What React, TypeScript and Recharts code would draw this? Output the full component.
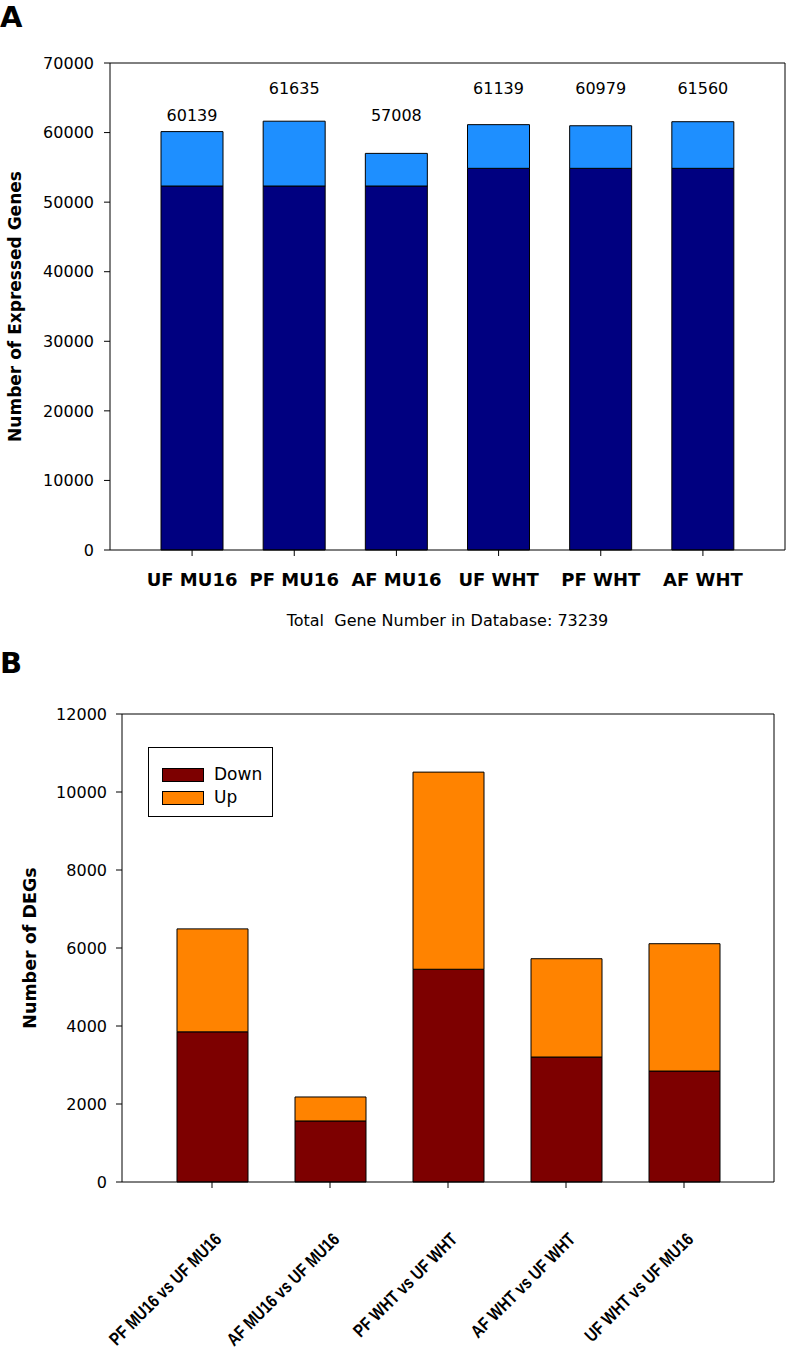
import React from 'react';
import { BarChart, Bar, XAxis, YAxis, LabelList, Legend } from 'recharts';

// Panel A: expressed genes per sample
const sampleGroups = ['UF MU16', 'PF MU16', 'AF MU16', 'UF WHT', 'PF WHT', 'AF WHT'];
const expressedTotal = [60139, 61635, 57008, 61139, 60979, 61560];
const expressedBase = [52320, 52320, 52320, 54860, 54860, 54860];
const expressedTicks = [0, 10000, 20000, 30000, 40000, 50000, 60000, 70000];

// Panel B: differentially expressed genes per comparison
const comparisons = [
  'PF MU16 vs UF MU16',
  'AF MU16 vs UF MU16',
  'PF WHT vs UF WHT',
  'AF WHT vs UF WHT',
  'UF WHT vs UF MU16',
];
const downDEGs = [3850, 1565, 5455, 3205, 2845];
const upDEGs = [2640, 615, 5055, 2520, 3265];
const degTicks = [0, 2000, 4000, 6000, 8000, 10000, 12000];

const FONT = '"DejaVu Sans", sans-serif';
const NAVY = '#000080';
const SKY = '#1e8fff';
const MAROON = '#7d0000';
const ORANGE = '#ff8300';

const expressedData = sampleGroups.map((group, i) => ({
  group,
  base: expressedBase[i],
  extra: expressedTotal[i] - expressedBase[i],
  total: expressedTotal[i],
}));

const degData = comparisons.map((name, i) => ({
  name,
  down: downDEGs[i],
  up: upDEGs[i],
}));

// value labels sit on two rows above the bars, as in the original figure
function TotalLabel(props: any) {
  const { x, y, width, height, index } = props;
  const total = expressedTotal[index];
  const extra = total - expressedBase[index];
  const k = height / extra;
  const zeroY = y + total * k;
  const level = total >= 60500 ? 65500 : 61650;
  return (
    <text
      x={x + width / 2}
      y={zeroY - level * k}
      textAnchor="middle"
      fontFamily={FONT}
      fontSize={16}
      fill="#000"
    >
      {total}
    </text>
  );
}

function SideTitle({ viewBox, x, text, size }: any) {
  const cy = viewBox.y + viewBox.height / 2;
  return (
    <text
      x={x}
      y={cy}
      transform={`rotate(-90 ${x} ${cy})`}
      textAnchor="middle"
      dominantBaseline="central"
      fontFamily={FONT}
      fontWeight="bold"
      fontSize={size}
      fill="#000"
    >
      {text}
    </text>
  );
}

// condensed, bold, 45° labels under panel B
function SlantTick({ x, y, payload }: any) {
  const ax = x + 6;
  const ay = y + 46;
  return (
    <g transform={`translate(${ax} ${ay}) rotate(-45) scale(0.82 1)`}>
      <text
        x={0}
        y={0}
        textAnchor="end"
        dy="0.35em"
        fontFamily='"Liberation Sans", Arial, sans-serif'
        fontWeight="bold"
        fontSize={18}
        fill="#000"
      >
        {payload.value}
      </text>
    </g>
  );
}

function DegLegend() {
  const items = [
    { label: 'Down', color: MAROON },
    { label: 'Up', color: ORANGE },
  ];
  return (
    <div
      style={{
        width: 125,
        height: 70,
        boxSizing: 'border-box',
        border: '1px solid #000',
        background: '#fff',
        padding: '15px 0 0 13px',
        fontFamily: FONT,
        fontSize: 17,
        color: '#000',
      }}
    >
      {items.map((it) => (
        <div key={it.label} style={{ display: 'flex', alignItems: 'center', height: 23 }}>
          <span
            style={{
              display: 'inline-block',
              width: 42,
              height: 14,
              boxSizing: 'border-box',
              border: '1px solid #000',
              background: it.color,
              marginRight: 10,
            }}
          />
          <span style={{ lineHeight: '17px' }}>{it.label}</span>
        </div>
      ))}
    </div>
  );
}

const axisStyle = { stroke: '#000', strokeWidth: 1 };
const panelLetter = {
  position: 'absolute' as const,
  left: 0,
  fontFamily: FONT,
  fontWeight: 'bold' as const,
  fontSize: 29,
  lineHeight: '30px',
};

export default function App() {
  return (
    <div style={{ position: 'absolute', left: 0, top: 0, width: 787, height: 1351, background: '#fff' }}>
      <div style={{ ...panelLetter, top: 2 }}>A</div>
      <div style={{ ...panelLetter, top: 648 }}>B</div>

      <div style={{ position: 'absolute', left: 0, top: 0 }}>
        <BarChart
          width={787}
          height={640}
          data={expressedData}
          margin={{ top: 62, right: 1, bottom: 0, left: 0 }}
          barSize={62}
        >
          <XAxis
            dataKey="group"
            height={90}
            padding={{ left: 31, right: 31 }}
            axisLine={axisStyle}
            tickLine={axisStyle}
            tickSize={6}
            tickMargin={17}
            interval={0}
            tick={{ fill: '#000', fontSize: 18, fontWeight: 'bold', fontFamily: FONT }}
            label={{
              value: 'Total\u00a0 Gene Number in Database: 73239',
              position: 'insideBottom',
              offset: 14,
              fill: '#000',
              fontSize: 16,
              fontFamily: FONT,
            }}
          />
          <XAxis
            xAxisId="top"
            dataKey="group"
            orientation="top"
            height={1}
            tick={false}
            tickLine={false}
            axisLine={axisStyle}
          />
          <YAxis
            width={110}
            domain={[0, 70000]}
            ticks={expressedTicks}
            interval={0}
            axisLine={axisStyle}
            tickLine={axisStyle}
            tickSize={6}
            tickMargin={10}
            tick={{ fill: '#000', fontSize: 16, fontFamily: FONT }}
            label={{ content: (p: any) => <SideTitle {...p} x={15} size={17} text="Number of Expressed Genes" /> }}
          />
          <YAxis
            yAxisId="right"
            orientation="right"
            width={1}
            domain={[0, 70000]}
            tick={false}
            tickLine={false}
            axisLine={axisStyle}
          />
          <Bar dataKey="base" stackId="a" fill={NAVY} stroke="#000" strokeWidth={1} isAnimationActive={false} />
          <Bar dataKey="extra" stackId="a" fill={SKY} stroke="#000" strokeWidth={1} isAnimationActive={false}>
            <LabelList dataKey="total" content={TotalLabel} />
          </Bar>
        </BarChart>
      </div>

      <div style={{ position: 'absolute', left: 0, top: 640 }}>
        <BarChart
          width={787}
          height={711}
          data={degData}
          margin={{ top: 73, right: 12, bottom: 0, left: 0 }}
          barSize={71}
        >
          <XAxis
            dataKey="name"
            height={169}
            padding={{ left: 31, right: 31 }}
            axisLine={axisStyle}
            tickLine={axisStyle}
            tickSize={6}
            interval={0}
            tick={<SlantTick />}
          />
          <XAxis
            xAxisId="top"
            dataKey="name"
            orientation="top"
            height={1}
            tick={false}
            tickLine={false}
            axisLine={axisStyle}
          />
          <YAxis
            width={122}
            domain={[0, 12000]}
            ticks={degTicks}
            interval={0}
            axisLine={axisStyle}
            tickLine={axisStyle}
            tickSize={6}
            tickMargin={9}
            tick={{ fill: '#000', fontSize: 16, fontFamily: FONT }}
            label={{ content: (p: any) => <SideTitle {...p} x={30} size={17.5} text="Number of DEGs" /> }}
          />
          <YAxis
            yAxisId="right"
            orientation="right"
            width={1}
            domain={[0, 12000]}
            tick={false}
            tickLine={false}
            axisLine={axisStyle}
          />
          <Legend
            layout="vertical"
            align="center"
            verticalAlign="middle"
            content={<DegLegend />}
            wrapperStyle={{ position: 'absolute', left: 148, top: 107, width: 125, height: 70 }}
          />
          <Bar dataKey="down" name="Down" stackId="b" fill={MAROON} stroke="#000" strokeWidth={1} isAnimationActive={false} />
          <Bar dataKey="up" name="Up" stackId="b" fill={ORANGE} stroke="#000" strokeWidth={1} isAnimationActive={false} />
        </BarChart>
      </div>
    </div>
  );
}
